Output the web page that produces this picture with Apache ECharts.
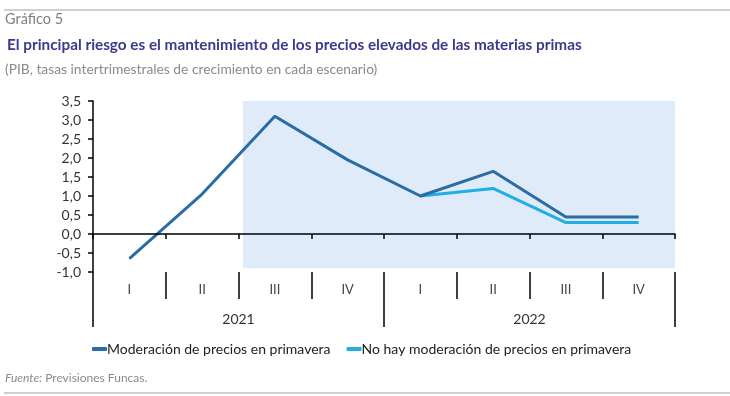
<!DOCTYPE html>
<html>
<head>
<meta charset="utf-8">
<script src="https://cdn.jsdelivr.net/npm/echarts@6/dist/echarts.min.js"></script>
<style>html,body{margin:0;padding:0;background:#fff}#c{width:730px;height:396px}</style>
</head>
<body>
<div id="c"></div>
<script>
const quarters = ['I', 'II', 'III', 'IV', 'I', 'II', 'III', 'IV'];
const years = ['2021', '2022'];
const seriesNames = ['Moderación de precios en primavera', 'No hay moderación de precios en primavera'];
const moderacion = [-0.65, 1.05, 3.1, 1.95, 1.0, 1.65, 0.45, 0.45];
const noModeracion = [null, null, null, null, 1.0, 1.2, 0.3, 0.3];
const yTicks = { min: -1, max: 3.5, interval: 0.5 };
const shadeRange = { xStart: 2.06, xEnd: 8, yTop: 3.5, yBottom: -0.9 };

const FONT = 'Lato';
const chart = echarts.init(document.getElementById('c'), null, { renderer: 'canvas' });
chart.setOption({
  animation: false,
  backgroundColor: '#fff',
  title: [
    { text: 'Gráfico 5', left: 0, top: 7, textStyle: { fontFamily: FONT, fontSize: 14.5, fontWeight: 'normal', color: '#808080' } },
    { text: 'El principal riesgo es el mantenimiento de los precios elevados de las materias primas', left: 2, top: 33,
      textStyle: { fontFamily: FONT, fontSize: 15.3, fontWeight: 'bold', color: '#3b3a8c' } },
    { text: '(PIB, tasas intertrimestrales de crecimiento en cada escenario)', left: 0, top: 58,
      textStyle: { fontFamily: FONT, fontSize: 13.8, fontWeight: 'normal', color: '#8a8a8a' } },
    { text: '{i|Fuente:} Previsiones Funcas.', left: 0, top: 367,
      textStyle: { fontFamily: FONT, fontSize: 12, fontWeight: 'normal', color: '#8a8a8a',
        rich: { i: { fontFamily: FONT, fontSize: 12, fontStyle: 'italic', color: '#8a8a8a' } } } }
  ],
  graphic: [
    { type: 'line', shape: { x1: 4, y1: 10, x2: 730, y2: 10 }, style: { stroke: '#a0a0a0', lineWidth: 1 } },
    { type: 'line', shape: { x1: 4, y1: 393, x2: 730, y2: 393 }, style: { stroke: '#a0a0a0', lineWidth: 1 } }
  ],
  legend: {
    left: 87, top: 337, itemWidth: 15, itemHeight: 4, itemGap: 16, icon: 'roundRect',
    textStyle: { fontFamily: FONT, fontSize: 14, color: '#222', padding: [0, 0, 0, -5] },
    data: seriesNames
  },
  grid: { left: 93, right: 55, top: 101, bottom: 124, containLabel: false },
  xAxis: [
    { type: 'category', data: quarters, boundaryGap: true, z: 10,
      axisLine: { onZero: true, lineStyle: { color: '#000', width: 1.5 } },
      axisTick: { show: true, length: 5, interval: 0, lineStyle: { color: '#000', width: 1.5 } },
      axisLabel: { show: false }, splitLine: { show: false } },
    { type: 'category', data: quarters, position: 'bottom', boundaryGap: true,
      axisLine: { show: false, onZero: false },
      axisTick: { show: true, length: 27, interval: 0, lineStyle: { color: '#000', width: 1.5 } },
      axisLabel: { show: true, interval: 0, margin: 11, fontFamily: FONT, fontSize: 13, color: '#444' } },
    { type: 'category', data: years, position: 'bottom', boundaryGap: true,
      axisLine: { show: false, onZero: false },
      axisTick: { show: true, length: 55, interval: 0, lineStyle: { color: '#000', width: 1.5 } },
      axisLabel: { show: true, interval: 0, margin: 40, fontFamily: FONT, fontSize: 14, color: '#333' } },
    { type: 'value', min: 0, max: 8, show: false }
  ],
  yAxis: {
    type: 'value', min: yTicks.min, max: yTicks.max, interval: yTicks.interval, z: 10,
    axisLine: { show: true, lineStyle: { color: '#000', width: 1.5 } },
    axisTick: { show: true, length: 5, lineStyle: { color: '#000', width: 1.5 } },
    splitLine: { show: false },
    axisLabel: { margin: 12, fontFamily: FONT, fontSize: 14, color: '#333',
      formatter: v => v.toFixed(1).replace('.', ',') }
  },
  series: [
    { type: 'line', name: 'shade', xAxisIndex: 3, data: [], silent: true, z: 0,
      markArea: { silent: true, itemStyle: { color: '#dfebf9' },
        data: [[{ coord: [shadeRange.xStart, shadeRange.yTop] }, { coord: [shadeRange.xEnd, shadeRange.yBottom] }]] } },
    { type: 'line', name: seriesNames[1], xAxisIndex: 0, data: noModeracion, showSymbol: false, symbol: 'none',
      lineStyle: { color: '#22ade3', width: 3 }, itemStyle: { color: '#22ade3' }, z: 3 },
    { type: 'line', name: seriesNames[0], xAxisIndex: 0, data: moderacion, showSymbol: false, symbol: 'none',
      lineStyle: { color: '#2a6ca3', width: 3 }, itemStyle: { color: '#2a6ca3' }, z: 4 }
  ]
});
</script>
</body>
</html>
